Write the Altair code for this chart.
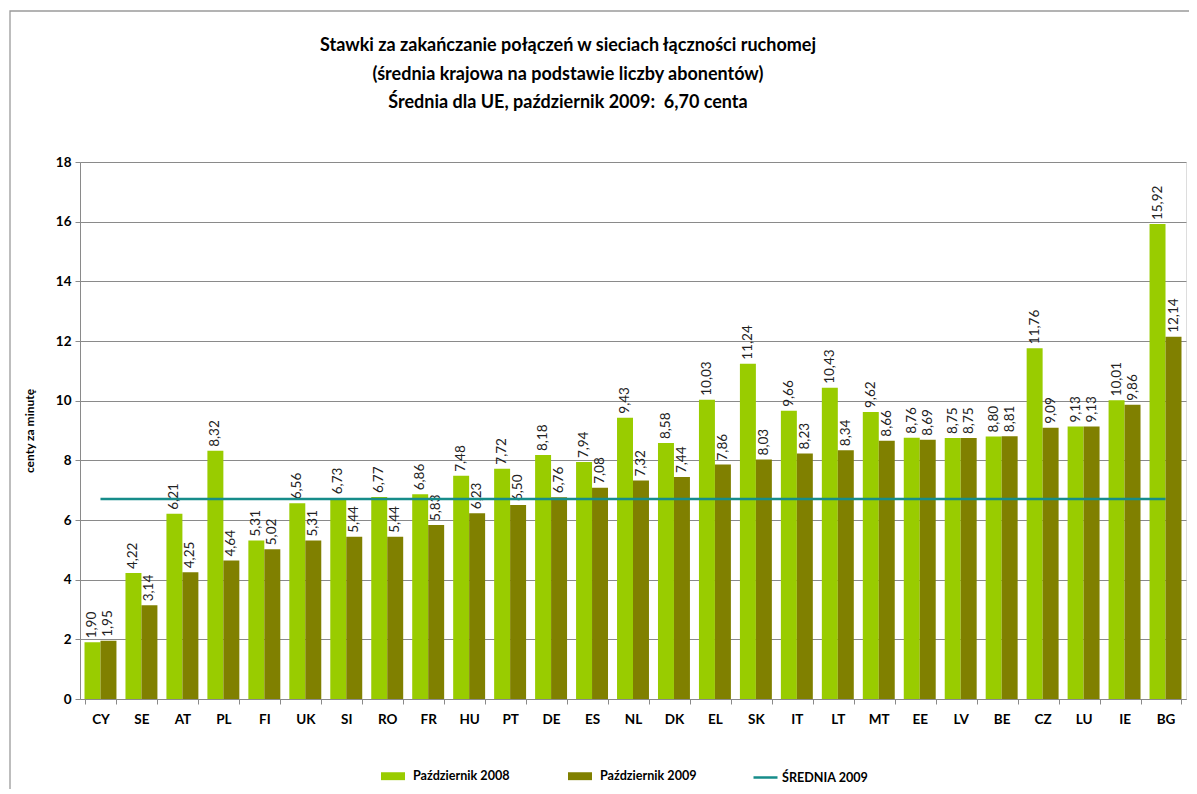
import altair as alt
import pandas as pd

countries = ["CY", "SE", "AT", "PL", "FI", "UK", "SI", "RO", "FR", "HU", "PT", "DE", "ES", "NL",
             "DK", "EL", "SK", "IT", "LT", "MT", "EE", "LV", "BE", "CZ", "LU", "IE", "BG"]
oct2008 = [1.90, 4.22, 6.21, 8.32, 5.31, 6.56, 6.73, 6.77, 6.86, 7.48, 7.72, 8.18, 7.94, 9.43,
           8.58, 10.03, 11.24, 9.66, 10.43, 9.62, 8.76, 8.75, 8.80, 11.76, 9.13, 10.01, 15.92]
oct2009 = [1.95, 3.14, 4.25, 4.64, 5.02, 5.31, 5.44, 5.44, 5.83, 6.23, 6.50, 6.76, 7.08, 7.32,
           7.44, 7.86, 8.03, 8.23, 8.34, 8.66, 8.69, 8.75, 8.81, 9.09, 9.13, 9.86, 12.14]
eu_avg_2009 = 6.70
series_names = ["Październik 2008", "Październik 2009"]
avg_name = "ŚREDNIA 2009"
title_lines = ["Stawki za zakańczanie połączeń w sieciach łączności ruchomej",
               "(średnia krajowa na podstawie liczby abonentów)",
               "Średnia dla UE, październik 2009:\u00a0 6,70 centa"]
y_title = "centy za minutę"

FONT = "Lato"
C08 = "#99CC00"
C09 = "#808000"
CAVG = "#168C8A"
GRID = "#8A8A8A"
FS = 13.5
LFS = 12.6

rows = []
for c, a, b in zip(countries, oct2008, oct2009):
    for s, v in zip(series_names, (a, b)):
        rows.append({"country": c, "series": s, "value": v,
                     "label": f"{v:.2f}".replace(".", ",")})
df = pd.DataFrame(rows)
avg_df = pd.DataFrame({"country": countries, "avg": [eu_avg_2009] * len(countries),
                       "name": [avg_name] * len(countries)})

x_enc = alt.X("country:N", sort=countries, title=None,
              scale=alt.Scale(paddingInner=0.22, paddingOuter=0.11),
              axis=alt.Axis(labelAngle=0, labelFont=FONT, labelFontWeight="bold",
                            labelFontSize=FS, labelColor="black", labelPadding=8,
                            tickBand="extent", tickSize=5, tickColor=GRID,
                            domainColor=GRID, grid=False))
y_enc = alt.Y("value:Q", title=y_title,
              scale=alt.Scale(domain=[0, 18], nice=False),
              axis=alt.Axis(values=list(range(0, 19, 2)), labelFont=FONT,
                            labelFontWeight="bold", labelFontSize=FS, labelColor="black",
                            labelPadding=4, tickSize=5, tickColor=GRID, domainColor=GRID,
                            gridColor=GRID, gridWidth=1, titleFont=FONT, titleFontSize=12,
                            titleFontWeight="bold", titleColor="black", titlePadding=19))

bars = alt.Chart(df).mark_bar().encode(
    x=x_enc,
    xOffset=alt.XOffset("series:N", sort=series_names,
                        scale=alt.Scale(paddingInner=0, paddingOuter=0)),
    y=y_enc,
    color=alt.Color("series:N", sort=series_names,
                    scale=alt.Scale(domain=series_names, range=[C08, C09]),
                    legend=alt.Legend(orient="none", legendX=301, legendY=602,
                                      direction="horizontal", title=None,
                                      symbolType="M-1,-0.33L1,-0.33L1,0.33L-1,0.33Z",
                                      symbolSize=576, symbolStrokeWidth=0,
                                      labelFont=FONT, labelFontSize=LFS,
                                      labelFontWeight="bold", labelColor="black",
                                      labelOffset=8, columnPadding=58)),
)

labels = alt.Chart(df).mark_text(angle=270, align="left", baseline="middle", dx=4,
                                 font=FONT, fontSize=FS, color="#222222").encode(
    x=alt.X("country:N", sort=countries),
    xOffset=alt.XOffset("series:N", sort=series_names),
    y="value:Q",
    text="label:N",
)

avg_line = alt.Chart(avg_df).mark_line(strokeWidth=2.5).encode(
    x=alt.X("country:N", sort=countries),
    y=alt.Y("avg:Q"),
    stroke=alt.Stroke("name:N", scale=alt.Scale(domain=[avg_name], range=[CAVG]),
                      legend=alt.Legend(orient="none", legendX=672, legendY=602,
                                        title=None, symbolType="stroke", symbolSize=576,
                                        symbolStrokeWidth=2.5, labelFont=FONT,
                                        labelFontSize=LFS, labelFontWeight="bold",
                                        labelColor="black", labelOffset=3)),
)

frame = alt.Chart(pd.DataFrame({"k": [0]})).mark_rect(
    filled=False, stroke="#9A9A9A", strokeWidth=1.3).encode(
    x=alt.value(-70), x2=alt.value(1140), y=alt.value(-151), y2=alt.value(660))

chart = alt.layer(frame, bars, labels, avg_line).resolve_scale(
    color="independent", stroke="independent"
).properties(
    width=1106, height=537,
    title=alt.TitleParams(text=title_lines, font=FONT, fontSize=18, fontWeight="bold",
                          color="black", anchor="middle", frame="group", dx=-65,
                          offset=0, dy=102, lineHeight=28.5),
    autosize=alt.AutoSizeParams(type="none"),
    padding={"left": 72, "top": 154, "right": 3, "bottom": 90},
).configure_view(stroke=None).configure(background="white")

chart.save("out.html", embed_options={"renderer": "svg", "actions": False})
